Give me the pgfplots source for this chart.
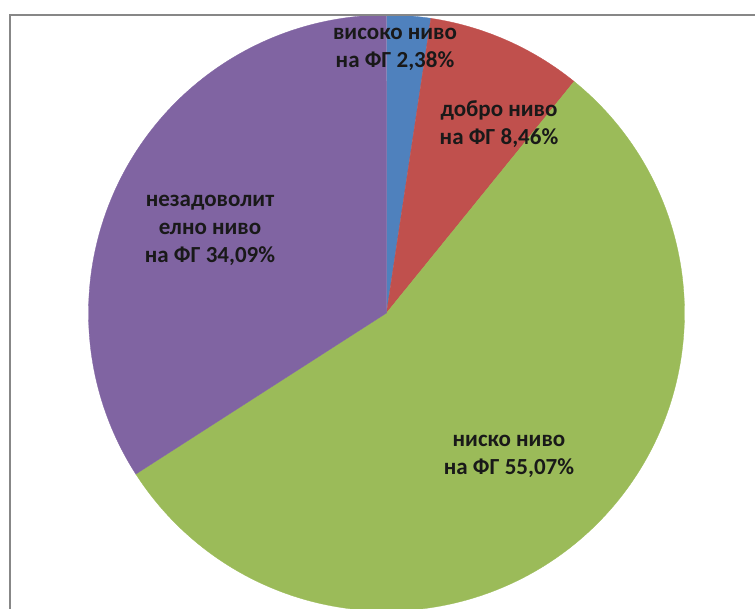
\documentclass[border=0pt]{standalone}
\usepackage{pgfplots}
\pgfplotsset{compat=1.18}
\usepackage{fontspec}
\setmainfont{Carlito}
\definecolor{pieblue}{HTML}{4F81BD}
\definecolor{piered}{HTML}{C0504D}
\definecolor{piegreen}{HTML}{9BBB59}
\definecolor{piepurple}{HTML}{8064A2}
\definecolor{framegray}{HTML}{878787}
% shares in percent, clockwise from the top
\def\pA{2.38}
\def\pB{8.46}
\def\pC{55.07}
\def\pD{34.09}
\def\cx{386.5}
\def\cy{313}
\def\rr{298}
\begin{document}
\begin{tikzpicture}
\begin{axis}[
  scale only axis, width=755pt, height=608pt,
  xmin=0, xmax=755, ymin=0, ymax=608, y dir=reverse,
  hide axis, clip=true,
  trig format plots=deg,
]
\pgfmathsetmacro{\aA}{90}
\pgfmathsetmacro{\aB}{90-\pA*3.6}
\pgfmathsetmacro{\aC}{\aB-\pB*3.6}
\pgfmathsetmacro{\aD}{\aC-\pC*3.6}
\pgfmathsetmacro{\aE}{\aD-\pD*3.6}
\addplot[fill=pieblue, draw=pieblue, line width=0.3pt, domain=\aA:\aB, samples=20, variable=\t]
  ({\cx+\rr*cos(\t)}, {\cy-\rr*sin(\t)}) -- (axis cs:\cx,\cy) -- cycle;
\addplot[fill=piered, draw=piered, line width=0.3pt, domain=\aB:\aC, samples=40, variable=\t]
  ({\cx+\rr*cos(\t)}, {\cy-\rr*sin(\t)}) -- (axis cs:\cx,\cy) -- cycle;
\addplot[fill=piegreen, draw=piegreen, line width=0.3pt, domain=\aC:\aD, samples=200, variable=\t]
  ({\cx+\rr*cos(\t)}, {\cy-\rr*sin(\t)}) -- (axis cs:\cx,\cy) -- cycle;
\addplot[fill=piepurple, draw=piepurple, line width=0.3pt, domain=\aD:\aE, samples=150, variable=\t]
  ({\cx+\rr*cos(\t)}, {\cy-\rr*sin(\t)}) -- (axis cs:\cx,\cy) -- cycle;
\addplot[framegray, line width=2pt, no marks] coordinates {(10,610) (10,15) (760,15)};
\path (axis cs:0,0) rectangle (axis cs:755,608);
\begin{scope}[every node/.style={align=center, font=\fontsize{23}{28}\selectfont\bfseries, text=black!90, inner sep=0pt}]
\node at (axis cs:395,49) {високо ниво\\на ФГ 2,38\%};
\node at (axis cs:499,124) {добро ниво\\на ФГ 8,46\%};
\node at (axis cs:210,230) {незадоволит\\елно ниво\\на ФГ 34,09\%};
\node at (axis cs:509,456) {ниско ниво\\на ФГ 55,07\%};
\end{scope}
\end{axis}
\end{tikzpicture}
\end{document}
